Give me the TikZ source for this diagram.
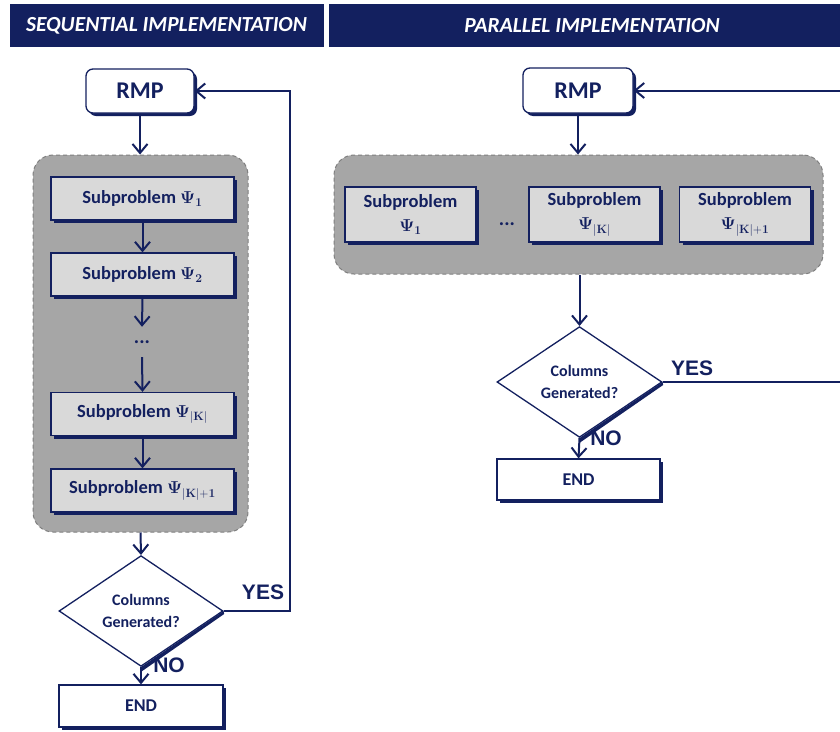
\documentclass[tikz,border=0pt]{standalone}
\usepackage[no-math]{fontspec}
\setmainfont{Carlito}
\newfontfamily\arialfont{Liberation Sans}
\usetikzlibrary{shapes.geometric,arrows.meta,shadows}
\definecolor{navy}{HTML}{13205F}
\definecolor{panel}{HTML}{A6A6A6}
\definecolor{panelline}{HTML}{7F7F7F}
\definecolor{subfill}{HTML}{D9D9D9}
\begin{document}
\begin{tikzpicture}[x=1pt,y=-1pt,
  flow/.style={draw=navy,line width=2pt,-{Straight Barb[length=9pt,width=15pt,line width=2pt]}},
  header/.style={fill=navy,minimum height=43pt,inner sep=0pt},
  headtext/.style={text=white,font=\fontsize{21.5}{24}\selectfont\bfseries\itshape},
  navyshadow/.style={drop shadow={shadow xshift=3pt,shadow yshift=-3pt,fill=navy,opacity=1}},
  rmpbox/.style={draw=navy,line width=1.3pt,fill=white,rounded corners=7pt,navyshadow,
    text=navy,font=\fontsize{24}{28}\selectfont\bfseries},
  panelbox/.style={draw=panelline,fill=panel,line width=1pt,dash pattern=on 4pt off 3pt,rounded corners=20pt},
  subbox/.style={draw=navy,line width=1.3pt,fill=subfill,navyshadow,text=navy,
    font=\fontsize{18.5}{24}\selectfont\bfseries,align=center,inner sep=0pt},
  endbox/.style={draw=navy,line width=1.3pt,fill=white,navyshadow,text=navy,
    font=\fontsize{18}{22}\selectfont\bfseries,minimum width=164pt,minimum height=42pt,inner sep=0pt},
  decision/.style={diamond,draw=navy,line width=1.3pt,fill=white,text=navy,align=center,
    font=\fontsize{16}{22}\selectfont\bfseries,minimum width=164pt,minimum height=88pt,inner sep=0pt},
  edgeshade/.style={fill=navy},
  answer/.style={text=navy,font=\fontsize{21}{24}\selectfont\arialfont\bfseries},
  dots/.style={text=navy,font=\fontsize{20}{22}\selectfont\bfseries,inner sep=0pt,minimum height=30pt}
]
\useasboundingbox (0,0) rectangle (840,731);
\clip (0,0) rectangle (840,731);
\fill[white] (0,0) rectangle (840,731);

% column headers
\node[header,minimum width=314pt] (hseq) at (167,25.5) {};
\node[headtext] (hseqtext) at (166.5,25.5) {SEQUENTIAL IMPLEMENTATION};
\node[header,minimum width=520pt] (hpar) at (589,25.5) {};
\node[headtext] (hpartext) at (592,25.5) {PARALLEL IMPLEMENTATION};

% ---------------- sequential implementation ----------------
\node[rmpbox,minimum width=108pt,minimum height=44pt] (rmpL) at (140,91) {RMP};
\node[panelbox,minimum width=215pt,minimum height=377pt] (panelL) at (140.5,343.5) {};
\node[subbox,minimum width=183pt,minimum height=43pt] (s1L) at (142.5,198.5) {Subproblem $\mathbf{\Psi_1}$};
\node[subbox,minimum width=183pt,minimum height=43pt] (s2L) at (142.5,274.5) {Subproblem $\mathbf{\Psi_2}$};
\node[dots] (dotsL) at (142,342) {...};
\node[subbox,minimum width=183pt,minimum height=43pt] (skL) at (142.5,414) {Subproblem $\mathbf{\Psi}_{|\mathbf{K}|}$};
\node[subbox,minimum width=183pt,minimum height=43pt] (sk1L) at (142.5,490.5) {Subproblem $\mathbf{\Psi}_{|\mathbf{K}|\mathbf{+1}}$};
\node[decision] (decL) at (141,611) {Columns\\Generated?};
\fill[edgeshade] (decL.east) -- (decL.south) -- ([shift={(0.5,4.5)}]decL.south) -- ([shift={(0.5,3)}]decL.east) -- cycle;
\node[endbox] (endL) at (141,706) {END};
\coordinate (loopL) at (290,611);

\draw[flow] (rmpL.south) -- (panelL.north -| rmpL.south);
\draw[flow] (s1L.south) -- (s2L.north);
\draw[flow] (s2L.south) -- (dotsL.north);
\draw[flow] (dotsL.south) -- (skL.north);
\draw[flow] (skL.south) -- (sk1L.north);
\draw[flow] (panelL.south) -- (decL.north);
\draw[flow] (decL.south) -- (endL.north);
\draw[flow] (decL.east) -- (loopL) |- (rmpL.east);
\node[answer] (yesL) at (263,592) {YES};
\node[answer] (noL) at (169,665) {NO};

% ---------------- parallel implementation ----------------
\node[rmpbox,minimum width=110pt,minimum height=45pt] (rmpR) at (578,90.5) {RMP};
\node[panelbox,minimum width=489pt,minimum height=119pt] (panelR) at (578.5,214.5) {};
\node[subbox,minimum width=131pt,minimum height=55pt] (s1R) at (410.5,214.5) {Subproblem\\$\mathbf{\Psi_1}$};
\node[dots,minimum height=0pt] (dotsR) at (507,224) {...};
\node[subbox,minimum width=131pt,minimum height=55pt] (skR) at (594.5,214.5) {Subproblem\\$\mathbf{\Psi}_{|\mathbf{K}|}$};
\node[subbox,minimum width=131pt,minimum height=55pt] (sk1R) at (745,214.5) {Subproblem\\$\mathbf{\Psi}_{|\mathbf{K}|\mathbf{+1}}$};
\node[decision,minimum width=165pt,minimum height=87pt] (decR) at (579.5,382) {Columns\\Generated?};
\fill[edgeshade] (decR.east) -- (decR.south) -- ([shift={(0.5,4.5)}]decR.south) -- ([shift={(0.5,3)}]decR.east) -- cycle;
\node[endbox,minimum width=163pt,minimum height=41pt] (endR) at (578.5,479.5) {END};
\coordinate (loopR) at (852,382);

\draw[flow] (rmpR.south) -- (panelR.north -| rmpR.south);
\draw[flow] (panelR.south -| decR.north) -- (decR.north);
\draw[flow] (decR.south) -- (endR.north);
\draw[flow] (decR.east) -- (loopR) |- (rmpR.east);
\node[answer] (yesR) at (692,368) {YES};
\node[answer] (noR) at (606,438) {NO};
\end{tikzpicture}
\end{document}
